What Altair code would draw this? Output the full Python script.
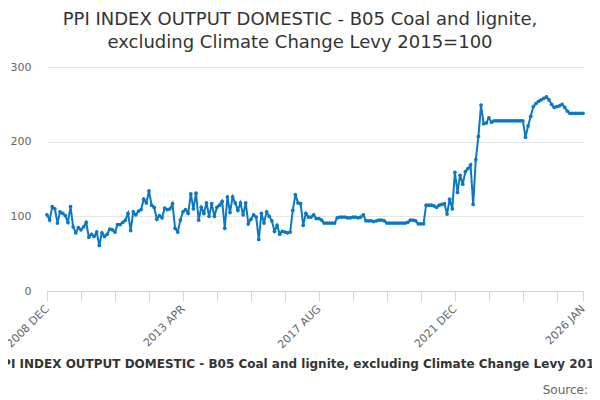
import altair as alt
import pandas as pd

# Monthly index values, 2008 DEC .. 2026 JAN (206 months)
values = (
    [102, 95, 113, 110, 91, 106, 104, 101, 92, 113, 86, 78, 85, 82, 86, 92, 72, 76, 73, 79,
     61, 78, 73, 76, 83, 82, 79, 89, 89, 92, 95]
    + [104, 81, 106, 102, 107, 109, 123, 118, 134, 115, 112, 96, 101, 98, 111, 109, 110, 117, 84, 79,
       95, 106, 109, 104, 130, 110, 131, 95, 112, 104]
    + [118, 100, 117, 100, 112, 115, 120, 84, 126, 105, 126, 118, 108, 118, 102, 118, 90, 96, 102, 99,
       69, 104, 91, 106, 100, 94, 80, 88, 76, 80, 79, 78, 79]
    + [108, 129, 118, 117, 88, 104, 99, 99, 102, 97, 97, 95]
    + [91, 91, 91, 91, 91]
    + [98, 99, 99, 99, 98, 98, 99, 99, 98, 99]
    + [102]
    + [94, 94, 94, 93, 94, 95, 95, 94]
    + [91, 91, 91, 91, 91, 91, 91, 91, 92]
    + [95, 95, 94]
    + [90, 90, 90]
    + [115, 115, 115, 114, 112]
    + [115, 116, 117]
    + [103, 123, 110, 159, 132, 155, 143, 160, 164, 169, 116, 176, 207, 249, 224, 225, 232, 226]
    + [228, 228, 228, 228, 228, 228, 228, 228, 228, 228, 228, 228]
    + [206, 221, 234, 247, 251, 254, 256, 258, 260, 256, 250, 246, 247, 248, 250, 246, 241]
    + [238, 238, 238, 238, 238, 238]
)

month_index = list(range(len(values)))
tick_positions = [0, 13, 26, 39, 52, 65, 78, 91, 104, 117, 130, 143, 156, 169, 182, 195, 205]
label_positions = [0, 52, 104, 156, 205]
label_texts = ["2008 DEC", "2013 APR", "2017 AUG", "2021 DEC", "2026 JAN"]
y_ticks = [0, 100, 200, 300]

title_lines = ["PPI INDEX OUTPUT DOMESTIC - B05 Coal and lignite,",
               "excluding Climate Change Levy 2015=100"]
caption = "PPI INDEX OUTPUT DOMESTIC - B05 Coal and lignite, excluding Climate Change Levy 2015=100"

df = pd.DataFrame({"i": month_index, "v": values})

label_expr = ""
for p, t in zip(label_positions, label_texts):
    label_expr += f"datum.value == {p} ? '{t}' : "
label_expr += "''"

C = "#0a78c2"
FONT = "DejaVu Sans"

line = alt.Chart(df).mark_line(
    color=C, strokeWidth=2,
    point=alt.OverlayMarkDef(color=C, size=14, filled=True, opacity=1),
).encode(
    x=alt.X("i:Q",
            scale=alt.Scale(domain=[0, 205], nice=False, zero=False),
            axis=alt.Axis(values=tick_positions, labelExpr=label_expr, grid=False,
                          domainColor="#ccd6eb", tickColor="#ccd6eb", tickSize=10,
                          labelAngle=-45, labelAlign="right", labelBaseline="middle",
                          labelPadding=6, labelColor="#666666", labelFontSize=11,
                          labelFont=FONT, labelOverlap=False, labelFlush=False,
                          title=caption, titleFont=FONT, titleFontSize=12,
                          titleFontWeight="bold", titleColor="#333333",
                          titleY=76, titleBaseline="alphabetic")),
    y=alt.Y("v:Q",
            scale=alt.Scale(domain=[0, 300], nice=False),
            axis=alt.Axis(values=y_ticks, grid=True, gridColor="#e6e6e6", domain=False,
                          ticks=False, labelPadding=16, labelColor="#666666",
                          labelFontSize=11, labelFont=FONT, title=None)),
)

source = alt.Chart(pd.DataFrame({"t": ["Source:"]})).mark_text(
    align="right", baseline="alphabetic", fontSize=12, color="#666666", font=FONT
).encode(x=alt.value(541), y=alt.value(327), text="t:N")

chart = alt.layer(line, source).properties(
    width=536, height=224,
    autosize=alt.AutoSizeParams(type="none"),
    padding={"left": 39, "top": 59, "right": 9, "bottom": 105},
    title=alt.TitleParams(text=title_lines, fontSize=18, font=FONT, fontWeight="normal",
                          color="#333333", anchor="middle", dx=-15, offset=9,
                          lineHeight=23),
).configure_view(stroke=None)

chart.save("out.html", embed_options={"renderer": "svg", "actions": False})
